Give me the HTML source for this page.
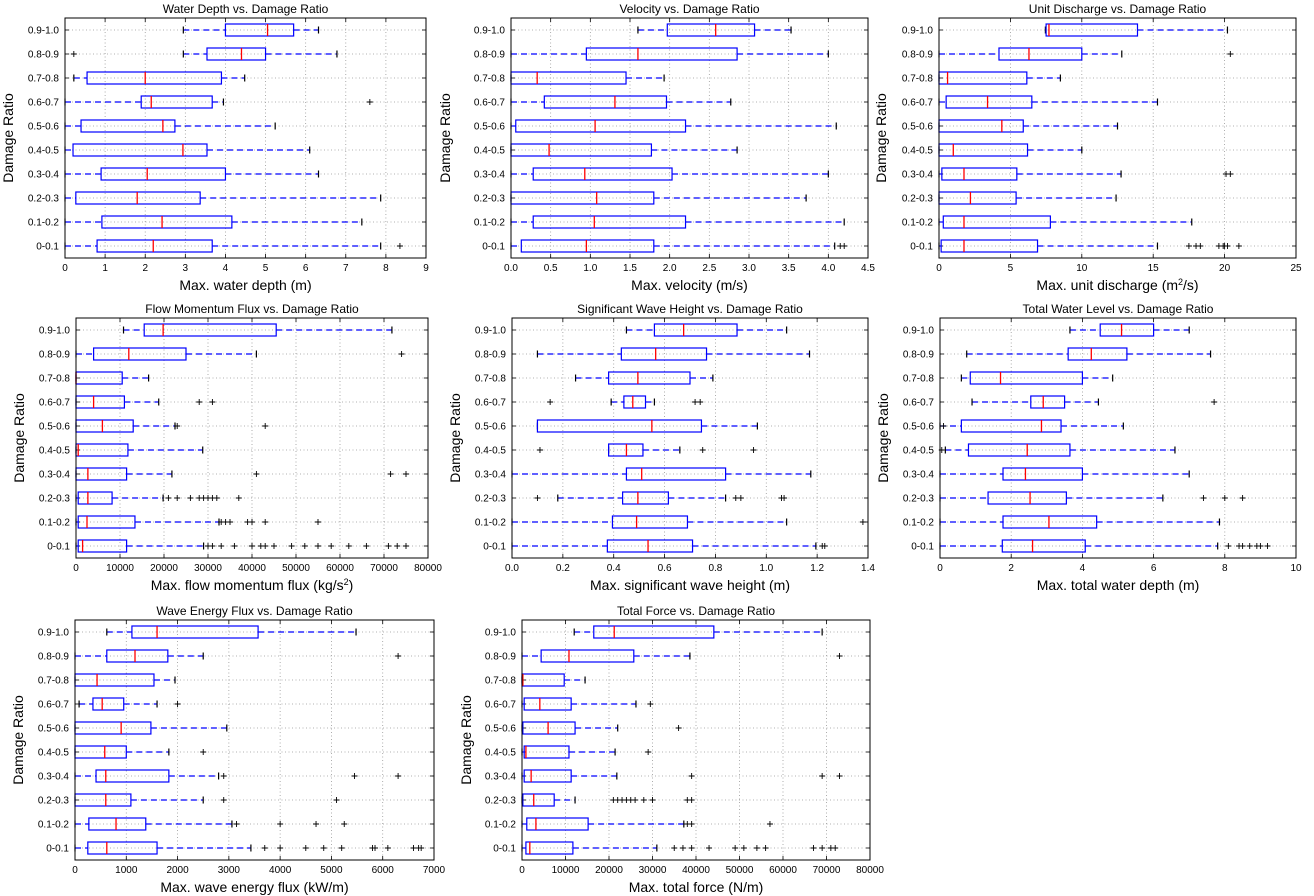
<!DOCTYPE html>
<html><head><meta charset="utf-8"><style>
html,body{margin:0;padding:0;background:#fff;}
svg{display:block;font-family:"Liberation Sans","DejaVu Sans",sans-serif;}
</style></head><body>
<svg id="chart" width="1314" height="896" viewBox="0 0 1314 896" xmlns="http://www.w3.org/2000/svg"></svg>
<script>
const categories=["0-0.1","0.1-0.2","0.2-0.3","0.3-0.4","0.4-0.5","0.5-0.6","0.6-0.7","0.7-0.8","0.8-0.9","0.9-1.0"];

const depthQ1=[0.8,0.92,0.27,0.9,0.2,0.4,1.9,0.55,3.54,4.0];
const depthMed=[2.2,2.42,1.8,2.05,2.94,2.44,2.15,2.0,4.4,5.05];
const depthQ3=[3.67,4.16,3.37,4.0,3.54,2.74,3.67,3.9,5.0,5.7];
const depthLo=[0,0,0,0,0,0,0,0.22,2.95,2.95];
const depthHi=[7.87,7.4,7.87,6.32,6.1,5.24,3.95,4.48,6.78,6.32];
const depthOut=[[8.35],[],[],[],[],[],[7.6],[],[0.22],[]];

const velQ1=[0.13,0.28,0,0.28,0,0.06,0.42,0,0.95,1.97];
const velMed=[0.95,1.05,1.08,0.93,0.48,1.06,1.31,0.33,1.6,2.58];
const velQ3=[1.8,2.2,1.8,2.03,1.77,2.2,1.96,1.45,2.85,3.07];
const velLo=[0,0,0,0,0,0,0,0,0,1.6];
const velHi=[4.08,4.2,3.72,4.0,2.85,4.1,2.77,1.93,4.0,3.53];
const velOut=[[4.15,4.2],[],[],[],[],[],[],[],[],[]];

const udQ1=[0.15,0.3,0,0.2,0,0,0.5,0,4.2,7.5];
const udMed=[1.75,1.75,2.2,1.75,1.0,4.4,3.4,0.6,6.3,7.7];
const udQ3=[6.9,7.8,5.4,5.45,6.2,5.9,6.5,6.15,10.0,13.9];
const udLo=[0,0,0,0,0,0,0,0,0,7.45];
const udHi=[15.3,17.7,12.4,12.75,10.0,12.5,15.3,8.5,12.8,20.2];
const udOut=[[17.5,18,18.3,19.6,19.9,20,20.2,21],[],[],[20.1,20.4],[],[],[],[],[20.4],[]];

const fmQ1=[500,500,500,0,0,0,0,0,4000,15500];
const fmMed=[1500,2500,2700,2700,500,6000,4000,0,12000,19800];
const fmQ3=[11500,13400,8200,11500,11800,13000,11000,10500,25000,45500];
const fmLo=[0,0,0,0,0,0,0,0,0,10800];
const fmHi=[29000,32500,19800,21800,28800,22500,18800,16500,41000,71800];
const fmOut=[[30000,31000,33000,36000,40000,42000,43000,45000,49000,52000,55000,58000,62000,66000,71000,73000,75000],[33000,34000,35000,39000,40000,43000,55000],[21000,23000,26000,28000,29000,30000,31000,32000,37000],[41000,71500,75000],[],[23000,43000],[28000,31000],[],[74000],[]];

const swQ1=[0.375,0.395,0.435,0.45,0.38,0.1,0.44,0.38,0.43,0.56];
const swMed=[0.535,0.49,0.495,0.51,0.45,0.55,0.475,0.495,0.565,0.675];
const swQ3=[0.71,0.69,0.615,0.84,0.515,0.745,0.525,0.7,0.765,0.885];
const swLo=[0,0,0.18,0,0.38,0.1,0.39,0.25,0.1,0.45];
const swHi=[1.195,1.08,0.84,1.175,0.66,0.965,0.56,0.79,1.17,1.08];
const swOut=[[1.22,1.23],[1.38],[0.1,0.88,0.9,1.06,1.07],[],[0.11,0.75,0.95],[],[0.15,0.72,0.74],[],[],[]];

const twQ1=[1.75,1.77,1.35,1.77,0.8,0.6,2.55,0.85,3.6,4.5];
const twMed=[2.6,3.06,2.53,2.4,2.45,2.85,2.9,1.7,4.25,5.1];
const twQ3=[4.08,4.4,3.55,4.0,3.65,3.4,3.5,4.0,5.25,6.0];
const twLo=[0,0,0,0,0.15,0,0.9,0.6,0.75,3.65];
const twHi=[7.8,7.85,6.26,7.0,6.6,5.15,4.45,4.85,7.6,7.0];
const twOut=[[8.1,8.4,8.5,8.7,8.9,9.0,9.2],[],[7.4,8.0,8.5],[],[0.05],[0.1],[7.7],[],[],[]];

const efQ1=[250,270,0,410,0,0,350,0,620,1110];
const efMed=[620,800,600,600,580,900,530,430,1170,1600];
const efQ3=[1600,1380,1090,1830,1000,1480,950,1540,1810,3570];
const efLo=[0,0,0,0,0,0,80,0,0,620];
const efHi=[3430,3060,2500,2800,1830,2960,1600,1950,2500,5480];
const efOut=[[3700,4000,4500,4850,5200,5800,5850,6100,6600,6700,6750],[3150,4000,4700,5250],[2900,5100],[2900,5450,6300],[2500],[],[2000],[],[6300],[]];

const tfQ1=[900,1100,200,500,500,200,500,0,4400,16500];
const tfMed=[1800,3200,2700,2100,900,6000,4100,200,10800,21200];
const tfQ3=[11700,15200,7400,11300,10800,12200,11300,9700,25700,44100];
const tfLo=[0,0,0,0,0,0,0,0,0,12000];
const tfHi=[31000,37200,12200,21800,21400,22000,26200,14500,38600,69000];
const tfOut=[[35000,37000,39000,43000,49000,51000,54000,56000,67000,69000,71000,72000],[38000,39000,57000],[21000,22000,23000,24000,25000,26000,28000,30000,38000,39000],[39000,69000,73000],[29000],[36000],[29500],[],[73000],[]];

const depthTicks=[0,1,2,3,4,5,6,7,8,9];
const velTicks=[0,0.5,1,1.5,2,2.5,3,3.5,4,4.5];
const udTicks=[0,5,10,15,20,25];
const fmTicks=[0,10000,20000,30000,40000,50000,60000,70000,80000];
const swTicks=[0,0.2,0.4,0.6,0.8,1.0,1.2,1.4];
const twTicks=[0,2,4,6,8,10];
const efTicks=[0,1000,2000,3000,4000,5000,6000,7000];
const tfTicks=[0,10000,20000,30000,40000,50000,60000,70000,80000];

const panels=[
 {name:"water-depth",left:65,right:426,top:18,bottom:258,xmax:9,ticks:depthTicks,dec:0,yoff:57,title:"Water Depth vs. Damage Ratio",xl:["Max. water depth (m)"],q1:depthQ1,med:depthMed,q3:depthQ3,lo:depthLo,hi:depthHi,out:depthOut},
 {name:"velocity",left:511,right:868,top:18,bottom:258,xmax:4.5,ticks:velTicks,dec:1,yoff:66,title:"Velocity  vs. Damage Ratio",xl:["Max. velocity (m/s)"],q1:velQ1,med:velMed,q3:velQ3,lo:velLo,hi:velHi,out:velOut},
 {name:"unit-discharge",left:939,right:1296,top:18,bottom:258,xmax:25,ticks:udTicks,dec:0,yoff:58,title:"Unit Discharge vs. Damage Ratio",xl:["Max. unit discharge (m","2","/s)"],q1:udQ1,med:udMed,q3:udQ3,lo:udLo,hi:udHi,out:udOut},
 {name:"flow-momentum",left:76,right:428,top:318,bottom:558,xmax:80000,ticks:fmTicks,dec:0,yoff:57,title:"Flow Momentum Flux vs. Damage Ratio",xl:["Max. flow momentum flux (kg/s","2",")"],q1:fmQ1,med:fmMed,q3:fmQ3,lo:fmLo,hi:fmHi,out:fmOut},
 {name:"wave-height",left:512,right:868,top:318,bottom:558,xmax:1.4,ticks:swTicks,dec:1,yoff:57,title:"Significant Wave Height vs. Damage Ratio",xl:["Max. significant wave height (m)"],q1:swQ1,med:swMed,q3:swQ3,lo:swLo,hi:swHi,out:swOut},
 {name:"total-water-level",left:940,right:1296,top:318,bottom:558,xmax:10,ticks:twTicks,dec:0,yoff:57,title:"Total Water Level vs. Damage Ratio",xl:["Max. total water depth (m)"],q1:twQ1,med:twMed,q3:twQ3,lo:twLo,hi:twHi,out:twOut},
 {name:"wave-energy-flux",left:75,right:434,top:620,bottom:860,xmax:7000,ticks:efTicks,dec:0,yoff:57,title:"Wave Energy Flux vs. Damage Ratio",xl:["Max. wave energy flux (kW/m)"],q1:efQ1,med:efMed,q3:efQ3,lo:efLo,hi:efHi,out:efOut},
 {name:"total-force",left:522,right:870,top:620,bottom:860,xmax:80000,ticks:tfTicks,dec:0,yoff:56,title:"Total Force vs. Damage Ratio",xl:["Max. total force (N/m)"],q1:tfQ1,med:tfMed,q3:tfQ3,lo:tfLo,hi:tfHi,out:tfOut}
];

const NS="http://www.w3.org/2000/svg";
const svg=document.getElementById("chart");
function mk(tag,attrs,parent){const e=document.createElementNS(NS,tag);for(const k in attrs)e.setAttribute(k,attrs[k]);(parent||svg).appendChild(e);return e;}

panels.forEach(p=>{
 const g=mk("g",{});
 
 
 const W=p.right-p.left, H=p.bottom-p.top, n=categories.length, rh=H/n;
 const X=v=>p.left+v/p.xmax*W;
 const Y=i=>p.bottom-(i+0.5)*rh;
 p.ticks.forEach(t=>{
  const x=X(t);
  if(t>0&&t<p.xmax){const gl=mk("line",{x1:x,x2:x,y1:p.top,y2:p.bottom,stroke:"#999","stroke-width":0.8,"stroke-dasharray":"1,2.5"},g);
   }
  mk("line",{x1:x,x2:x,y1:p.bottom,y2:p.bottom-4,stroke:"#000","stroke-width":0.8},g);
  mk("line",{x1:x,x2:x,y1:p.top,y2:p.top+4,stroke:"#000","stroke-width":0.8},g);
  const tl=mk("text",{x:x,y:p.bottom+13,"font-size":10,"text-anchor":"middle",fill:"#000"},g);
  tl.textContent=t.toFixed(p.dec);
  
 });
 categories.forEach((c,i)=>{
  const y=Y(i);
  const gl=mk("line",{x1:p.left,x2:p.right,y1:y,y2:y,stroke:"#999","stroke-width":0.8,"stroke-dasharray":"1,2.5"},g);
  
  mk("line",{x1:p.left,x2:p.left+4,y1:y,y2:y,stroke:"#000","stroke-width":0.8},g);
  mk("line",{x1:p.right,x2:p.right-4,y1:y,y2:y,stroke:"#000","stroke-width":0.8},g);
  const tl=mk("text",{x:p.left-6,y:y+3.5,"font-size":10,"text-anchor":"end",fill:"#000"},g);
  tl.textContent=c;
  
 });
 categories.forEach((c,i)=>{
  const y=Y(i), bh=12;
  const bg=mk("g",{},g);
  
  
  mk("line",{x1:X(p.lo[i]),x2:X(p.q1[i]),y1:y,y2:y,stroke:"#00f","stroke-width":1.2,"stroke-dasharray":"6,4"},bg);
  mk("line",{x1:X(p.q3[i]),x2:X(p.hi[i]),y1:y,y2:y,stroke:"#00f","stroke-width":1.2,"stroke-dasharray":"6,4"},bg);
  mk("line",{x1:X(p.lo[i]),x2:X(p.lo[i]),y1:y-3.5,y2:y+3.5,stroke:"#000","stroke-width":1.2},bg);
  mk("line",{x1:X(p.hi[i]),x2:X(p.hi[i]),y1:y-3.5,y2:y+3.5,stroke:"#000","stroke-width":1.2},bg);
  mk("rect",{x:X(p.q1[i]),y:y-bh/2,width:Math.max(1,X(p.q3[i])-X(p.q1[i])),height:bh,fill:"none",stroke:"#00f","stroke-width":1.2},bg);
  mk("line",{x1:X(p.med[i]),x2:X(p.med[i]),y1:y-bh/2,y2:y+bh/2,stroke:"#f00","stroke-width":1.3},bg);
  p.out[i].forEach(o=>{
   const ox=X(o);
   const pt=mk("path",{d:`M${ox-3},${y}H${ox+3}M${ox},${y-3}V${y+3}`,stroke:"#000","stroke-width":0.9,fill:"none"},bg);
   
  });
 });
 const fr=mk("rect",{x:p.left,y:p.top,width:W,height:H,fill:"none",stroke:"#000","stroke-width":1},g);
 
 const tt=mk("text",{x:p.left+W/2,y:p.top-5,"font-size":12,"text-anchor":"middle",fill:"#000"},g);
 tt.textContent=p.title;
 
 const xl=mk("text",{x:p.left+W/2,y:p.bottom+32,"font-size":14,"text-anchor":"middle",fill:"#000"},g);
 
 p.xl.forEach((s,k)=>{const ts=mk("tspan",{},xl);ts.textContent=s;
  if(k===1){ts.setAttribute("baseline-shift","super");ts.setAttribute("font-size","9");}});
 const yl=mk("text",{x:0,y:0,"font-size":14,"text-anchor":"middle",fill:"#000",transform:`translate(${p.left-p.yoff+5},${p.top+H/2}) rotate(-90)`},g);
 yl.textContent="Damage Ratio";
 
});
</script>
</body></html>
